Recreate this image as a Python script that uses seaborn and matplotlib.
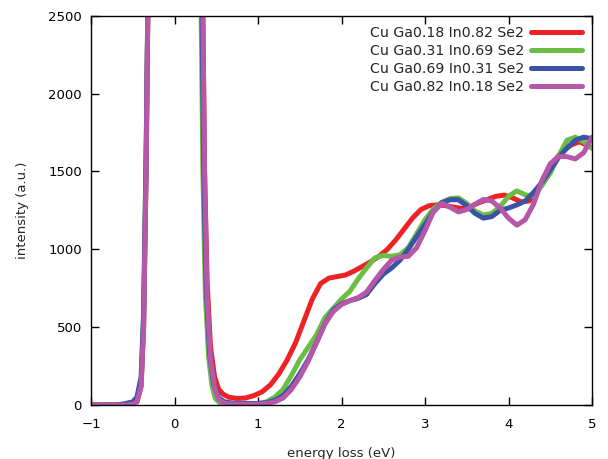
import numpy as np
import pandas as pd
import matplotlib
matplotlib.use("Agg")
import matplotlib.pyplot as plt
import seaborn as sns

# ---------------- data ----------------
names = ["Cu Ga0.18 In0.82 Se2", "Cu Ga0.31 In0.69 Se2",
         "Cu Ga0.69 In0.31 Se2", "Cu Ga0.82 In0.18 Se2"]
colors = ["#ec2227", "#6bbd45", "#3a53a4", "#b657a8"]

x_ga018 = [-1.0, -0.6, -0.5, -0.45, -0.40, -0.37, -0.34, -0.31, 0.0, 0.33, 0.36, 0.39, 0.43,
           0.48, 0.53, 0.58, 0.65, 0.75, 0.85, 0.95, 1.05, 1.15, 1.25, 1.35, 1.45, 1.55,
           1.65, 1.75, 1.85, 1.95, 2.05, 2.15, 2.25, 2.35, 2.45, 2.55, 2.65, 2.75, 2.85,
           2.95, 3.05, 3.15, 3.25, 3.35, 3.45, 3.55, 3.65, 3.75, 3.85, 3.95, 4.05, 4.15,
           4.25, 4.35, 4.45, 4.55, 4.65, 4.75, 4.85, 4.95, 5.0]
y_ga018 = [0, 0, 5, 20, 120, 500, 1500, 3000, 8000, 3000, 1500, 800, 380,
           180, 100, 70, 50, 42, 45, 60, 85, 130, 200, 290, 400, 540,
           680, 780, 815, 825, 835, 860, 890, 920, 955, 1000, 1060, 1130, 1200,
           1255, 1280, 1285, 1280, 1270, 1262, 1275, 1300, 1320, 1340, 1348, 1330, 1305,
           1310, 1380, 1480, 1570, 1630, 1670, 1690, 1665, 1650]

x_ga031 = [-1.0, -0.6, -0.5, -0.45, -0.40, -0.37, -0.34, -0.31, 0.0, 0.31, 0.34, 0.37, 0.41,
           0.45, 0.49, 0.55, 0.7, 0.9, 1.0, 1.1, 1.2, 1.3, 1.4, 1.5, 1.6, 1.7, 1.8, 1.9,
           2.0, 2.1, 2.2, 2.3, 2.4, 2.5, 2.6, 2.7, 2.8, 2.9, 3.0, 3.1, 3.2, 3.3, 3.4, 3.5,
           3.6, 3.7, 3.8, 3.9, 4.0, 4.1, 4.2, 4.3, 4.4, 4.5, 4.6, 4.7, 4.8, 4.9, 5.0]
y_ga031 = [0, 0, 5, 25, 140, 550, 1600, 3000, 8000, 3000, 1500, 700, 300,
           120, 40, 10, 5, 5, 8, 20, 50, 100, 190, 290, 370, 450, 560, 620,
           680, 730, 810, 880, 945, 960, 955, 965, 1010, 1100, 1190, 1260, 1300, 1325, 1330, 1295,
           1245, 1220, 1230, 1275, 1340, 1375, 1350, 1340, 1410, 1490, 1600, 1700, 1720, 1690, 1650]

x_ga069 = [-1.0, -0.7, -0.6, -0.5, -0.45, -0.40, -0.37, -0.34, -0.31, 0.0, 0.32, 0.35, 0.38,
           0.42, 0.47, 0.53, 0.6, 0.7, 0.9, 1.0, 1.1, 1.2, 1.3, 1.4, 1.5, 1.6, 1.7, 1.8, 1.9,
           2.0, 2.1, 2.2, 2.3, 2.4, 2.5, 2.6, 2.7, 2.8, 2.9, 3.0, 3.1, 3.2, 3.3, 3.4, 3.5,
           3.6, 3.7, 3.8, 3.9, 4.0, 4.1, 4.2, 4.3, 4.4, 4.5, 4.6, 4.7, 4.8, 4.9, 5.0]
y_ga069 = [0, 0, 8, 20, 50, 180, 600, 1600, 3000, 8000, 3000, 1500, 750,
           330, 130, 45, 20, 12, 10, 10, 15, 30, 60, 120, 200, 290, 400, 520, 610,
           650, 670, 685, 710, 780, 840, 880, 930, 1000, 1080, 1160, 1240, 1300, 1318, 1318, 1280,
           1230, 1200, 1210, 1250, 1265, 1285, 1310, 1365, 1430, 1510, 1590, 1650, 1700, 1720, 1710]

x_ga082 = [-1.0, -0.6, -0.5, -0.45, -0.40, -0.37, -0.34, -0.31, 0.0, 0.33, 0.36, 0.39, 0.43,
           0.48, 0.53, 0.6, 0.8, 1.0, 1.1, 1.2, 1.3, 1.4, 1.5, 1.6, 1.7, 1.8, 1.9,
           2.0, 2.1, 2.2, 2.3, 2.4, 2.5, 2.6, 2.7, 2.8, 2.9, 3.0, 3.1, 3.2, 3.3, 3.4, 3.5,
           3.6, 3.7, 3.8, 3.9, 4.0, 4.1, 4.2, 4.3, 4.4, 4.5, 4.6, 4.7, 4.8, 4.9, 5.0]
y_ga082 = [0, 0, 5, 20, 120, 500, 1500, 3000, 8000, 3000, 1500, 700, 300,
           110, 35, 10, 5, 5, 10, 20, 45, 100, 180, 280, 400, 520, 600,
           645, 670, 690, 725, 800, 870, 930, 950, 955, 1010, 1120, 1240, 1295, 1270, 1240, 1255,
           1290, 1320, 1310, 1265, 1200, 1155, 1190, 1290, 1440, 1550, 1595, 1595, 1580, 1620, 1720]

xticks = [-1, 0, 1, 2, 3, 4, 5]
yticks = [0, 500, 1000, 1500, 2000, 2500]

# ---------------- figure ----------------
sns.set_style("ticks")
plt.rcParams["font.family"] = ["DejaVu Sans"]

fig = plt.figure(figsize=(6.08, 4.59), dpi=100)
L, R, T, B = 91 / 608, 592 / 608, 1 - 15.7 / 459, 1 - 405 / 459
ax = fig.add_axes([L, B, R - L, T - B])

frames = []
for n, xs, ys in zip(names, [x_ga018, x_ga031, x_ga069, x_ga082],
                     [y_ga018, y_ga031, y_ga069, y_ga082]):
    frames.append(pd.DataFrame({"x": xs, "y": ys, "series": n}))
df = pd.concat(frames, ignore_index=True)

sns.lineplot(data=df, x="x", y="y", hue="series", hue_order=names,
             palette=dict(zip(names, colors)), estimator=None, sort=False,
             linewidth=3.6, ax=ax, legend=True)
for ln in ax.get_lines():
    ln.set_solid_joinstyle("round")
    ln.set_solid_capstyle("round")

ax.set_xlim(-1, 5)
ax.set_ylim(0, 2500)
ax.set_xticks(xticks)
ax.set_yticks(yticks)
ax.tick_params(direction="in", top=True, right=True, length=6, width=1,
               labelsize=9.5, colors="black")
ax.tick_params(axis="x", pad=9)
ax.tick_params(axis="y", pad=6.5)
for s in ax.spines.values():
    s.set_visible(True)
    s.set_color("black")
    s.set_linewidth(1.0)

ax.set_xlabel("energy loss (eV)", fontsize=9.5, labelpad=12)
ax.set_ylabel("intensity (a.u.)", fontsize=9.5, labelpad=14)

handles, labels = ax.get_legend_handles_labels()
leg = ax.legend(handles, labels, loc="upper right", frameon=False, markerfirst=False,
                handlelength=3.6, handletextpad=0.5, fontsize=10.2, labelspacing=0.3,
                borderaxespad=0.3, borderpad=0.4)
for h in leg.get_lines():
    h.set_linewidth(3.6)

fig.savefig("out.png", dpi=100)
